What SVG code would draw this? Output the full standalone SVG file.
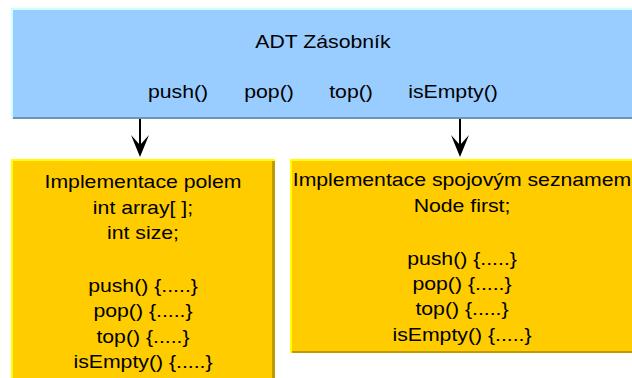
<svg xmlns="http://www.w3.org/2000/svg" width="632" height="378" viewBox="0 0 632 378">
  <style>
    text { font-family: "Liberation Sans", Arial, sans-serif; font-size: 18px; fill: #000; text-anchor: middle; }
    .blue { fill: #99ccff; }
    .blue-hi { fill: #ccffff; }
    .blue-sh { fill: #6f92b8; }
    .yel { fill: #ffcc00; }
    .yel-hi { fill: #ffff00; }
    .yel-sh { fill: #c09a00; }
    .conn { stroke: #000; stroke-width: 2; fill: none; }
    .head { fill: #000; }
  </style>
  <rect width="632" height="378" fill="#fff"/>

  <!-- abstract data type: stack interface -->
  <g id="adt-zasobnik">
    <rect class="blue-hi" x="11" y="8" width="621" height="111"/>
    <rect class="blue" x="13" y="10" width="619" height="107"/>
    <rect class="blue-sh" x="13" y="117" width="619" height="2"/>
    <g transform="translate(323,0) scale(1.18,1)"><text x="0" y="48">ADT Zásobník</text></g>
    <g transform="translate(178,0) scale(1.18,1)"><text x="0" y="98">push()</text></g>
    <g transform="translate(269,0) scale(1.18,1)"><text x="0" y="98">pop()</text></g>
    <g transform="translate(351,0) scale(1.18,1)"><text x="0" y="98">top()</text></g>
    <g transform="translate(453,0) scale(1.18,1)"><text x="0" y="98">isEmpty()</text></g>
  </g>

  <!-- array-based implementation -->
  <g id="impl-pole">
    <rect class="yel-hi" x="11" y="159" width="264" height="219"/>
    <rect class="yel" x="13" y="161" width="262" height="217"/>
    <rect class="yel-sh" x="272" y="161" width="3" height="217"/>
    <g transform="translate(143,0) scale(1.18,1)">
      <text x="0" y="188">Implementace polem</text>
      <text x="0" y="214">int array[ ];</text>
      <text x="0" y="239">int size;</text>
      <text x="0" y="292">push() {.....}</text>
      <text x="0" y="317">pop() {.....}</text>
      <text x="0" y="343">top() {.....}</text>
      <text x="0" y="368">isEmpty() {.....}</text>
    </g>
  </g>

  <!-- linked-list implementation -->
  <g id="impl-seznam">
    <rect class="yel-hi" x="290" y="159" width="342" height="194"/>
    <rect class="yel" x="292" y="161" width="340" height="190"/>
    <rect class="yel-sh" x="292" y="351" width="340" height="2"/>
    <g transform="translate(462,0) scale(1.18,1)">
      <text x="0" y="186">Implementace spojovým seznamem</text>
      <text x="0" y="212">Node first;</text>
      <text x="0" y="265">push() {.....}</text>
      <text x="0" y="290">pop() {.....}</text>
      <text x="0" y="315">top() {.....}</text>
      <text x="0" y="341">isEmpty() {.....}</text>
    </g>
  </g>

  <!-- interface-to-implementation arrows -->
  <g id="connectors">
    <line class="conn" x1="140" y1="119" x2="140" y2="146"/>
    <path class="head" d="M131,135 L140,145 L149,135 L140,157 Z"/>
    <line class="conn" x1="460" y1="119" x2="460" y2="146"/>
    <path class="head" d="M451,135 L460,145 L469,135 L460,157 Z"/>
  </g>
</svg>
